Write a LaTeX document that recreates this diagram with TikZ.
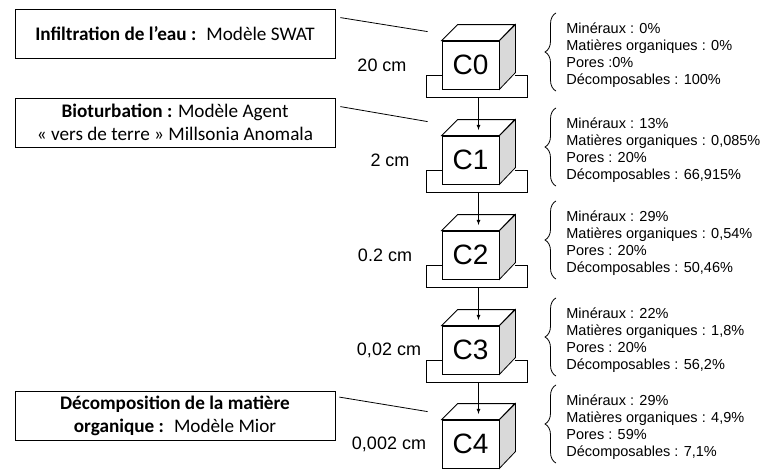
\documentclass[tikz,border=0pt]{standalone}
\usepackage{fontspec}
\setmainfont{Liberation Sans}
\newfontfamily\boxfont{Carlito}
\usetikzlibrary{arrows,decorations.pathreplacing}

\begin{document}
\begin{tikzpicture}[x=1pt,y=-1pt,line width=0.8pt,
    modele/.style={draw,font=\boxfont\fontsize{19.2}{23}\selectfont,minimum width=320pt,minimum height=49pt,align=center,inner sep=2pt},
    face/.style={draw,fill=white,minimum width=57pt,minimum height=48pt,inner sep=0pt,font=\fontsize{28}{30}\selectfont},
    prof/.style={font=\fontsize{18}{20}\selectfont},
    compo/.style={anchor=west,align=left,inner sep=0pt,font=\fontsize{14.5}{17.2}\selectfont},
    accolade/.style={decorate,decoration={brace,amplitude=11pt}}]
    \useasboundingbox (0,0) rectangle (760,469);

    % left boxes
    \node[modele] (m0) at (175,33.5) {\textbf{Infiltration de l’eau :}~ Modèle SWAT};
    \node[modele] (m1) at (175,122.5) {\textbf{Bioturbation :} Modèle Agent\\« vers de terre » Millsonia Anomala};
    \node[modele] (m2) at (175,416) {\textbf{Décomposition de la matière}\\\textbf{organique :}~ Modèle Mior};

    % cubes and depths
    \foreach \i/\y/\x/\prof in {0/65/382/20 cm, 1/160/390/2 cm, 2/255/385/0.2 cm, 3/350/389/{0,02 cm}, 4/444/389/{0,002 cm}} {
        \node[prof] (d\i) at (\x,\y) {\prof};
        \node[face] (c\i) at (470.5,\y) {C\i};
        \draw[fill=white] (c\i.north west) -- ++(16,-16) -- ++(57,0) -- (c\i.north east) -- cycle;
        \draw[fill=black!15] (c\i.north east) -- ++(16,-16) -- ++(0,48) -- (c\i.south east) -- cycle;
    }

    % trays and arrows
    \foreach \i [count=\j] in {0,...,3} {
        \draw ([yshift=-10pt]c\i.west) -- ++(-15,0) -- ++(0,22) -- ++(101,0) -- ++(0,-22) -- ++(-13,0);
        \coordinate (p\i) at ([xshift=8pt,yshift=-32pt]c\i.center);
        \draw[-latex] (p\i) -- ([xshift=8pt,yshift=30pt]c\j.center);
    }

    % links from models
    \draw ([xshift=5pt,yshift=-9pt]m0.north east) -- ([xshift=-14pt,yshift=9pt]c0.north west);
    \draw ([xshift=5pt,yshift=-9pt]m1.north east) -- ([xshift=-14pt,yshift=14pt]c1.north west);
    \draw ([xshift=4pt,yshift=-6pt]m2.north east) -- ([xshift=-14pt,yshift=8pt]c4.north west);

    % compositions
    \node[compo] (t0) at (566,55) {Minéraux : 0\%\\Matières organiques : 0\%\\Pores :0\%\\Décomposables : 100\%};
    \node[compo] (t1) at (566,150) {Minéraux : 13\%\\Matières organiques : 0,085\%\\Pores : 20\%\\Décomposables : 66,915\%};
    \node[compo] (t2) at (566,243) {Minéraux : 29\%\\Matières organiques : 0,54\%\\Pores : 20\%\\Décomposables : 50,46\%};
    \node[compo] (t3) at (566,340) {Minéraux : 22\%\\Matières organiques : 1,8\%\\Pores : 20\%\\Décomposables : 56,2\%};
    \node[compo] (t4) at (566,427) {Minéraux : 29\%\\Matières organiques : 4,9\%\\Pores : 59\%\\Décomposables : 7,1\%};
    \foreach \i in {0,...,4}
        \draw[accolade] ([xshift=-10pt,yshift=-3pt]t\i.south west) -- ([xshift=-10pt,yshift=9pt]t\i.north west);
\end{tikzpicture}
\end{document}
